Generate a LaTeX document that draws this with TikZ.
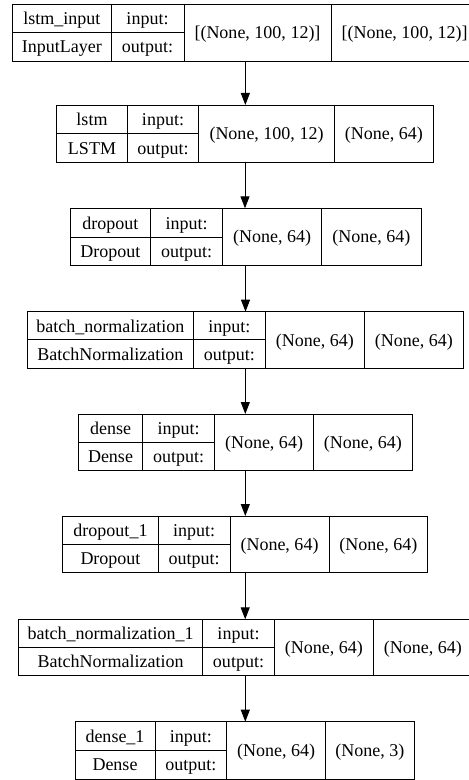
\documentclass[tikz,border=0pt]{standalone}
\usepackage{fontspec}
\setmainfont{Liberation Serif}
\usetikzlibrary{arrows.meta}
\begin{document}
\begin{tikzpicture}[x=1bp,y=-1bp,
  boxline/.style={draw=black, line width=0.9bp},
  layerbox/.style={boxline, inner sep=0pt, outer sep=0pt},
  lbl/.style={font=\fontsize{18.07}{20}\selectfont, inner sep=0pt, text height=13bp, text depth=0.4bp},
  conn/.style={draw=black, line width=0.9bp, -{Triangle[length=12bp,width=9bp]}}]
\clip (0,0) rectangle (469,780);
\fill[white] (0,0) rectangle (469,780);
\foreach \nm/\xl/\xa/\xb/\xc/\xr/\yt/\ym/\yb/\ta/\tb/\si/\so in {
  l0/12.7/111/184/331/478/4/32.3/61/lstm\_input/InputLayer/{[(None, 100, 12)]}/{[(None, 100, 12)]},
  l1/56.7/127.3/198.7/334.3/433.3/105/133.3/162.3/lstm/LSTM/{(None, 100, 12)}/{(None, 64)},
  l2/70/150.7/222.7/321.7/421/208.3/237.3/265/dropout/Dropout/{(None, 64)}/{(None, 64)},
  l3/27.3/193.3/265.3/364.3/463.3/311.7/339.7/368.3/batch\_normalization/BatchNormalization/{(None, 64)}/{(None, 64)},
  l4/78.3/142.7/214.7/313.3/412.3/414/442.3/470/dense/Dense/{(None, 64)}/{(None, 64)},
  l5/62.7/158.3/230/329/427.7/516/544.3/572.7/dropout\_1/Dropout/{(None, 64)}/{(None, 64)},
  l6/18.3/202.7/274.3/373.3/472.3/619.3/647.3/675/batch\_normalization\_1/BatchNormalization/{(None, 64)}/{(None, 64)},
  l7/75/155/226.7/325.7/414/721.7/750/779/dense\_1/Dense/{(None, 64)}/{(None, 3)}}
{
  \node[layerbox, minimum width={\xr bp-\xl bp}, minimum height={\yb bp-\yt bp}]
    (\nm) at ({(\xl+\xr)/2},{(\yt+\yb)/2}) {};
  \draw[boxline] (\xa,\yt) -- (\xa,\yb) (\xb,\yt) -- (\xb,\yb) (\xc,\yt) -- (\xc,\yb)
    (\xl,\ym) -- (\xb,\ym);
  \node[lbl] (\nm-name) at ({(\xl+\xa)/2},{(\yt+\ym)/2}) {\ta};
  \node[lbl] (\nm-class) at ({(\xl+\xa)/2},{(\ym+\yb)/2}) {\tb};
  \node[lbl] (\nm-in) at ({(\xa+\xb)/2},{(\yt+\ym)/2}) {input:};
  \node[lbl] (\nm-out) at ({(\xa+\xb)/2},{(\ym+\yb)/2}) {output:};
  \node[lbl] (\nm-ishape) at ({(\xb+\xc)/2},{(\yt+\yb)/2}) {\si};
  \node[lbl] (\nm-oshape) at ({(\xc+\xr)/2},{(\yt+\yb)/2}) {\so};
}
\foreach \p/\q in {l0/l1,l1/l2,l2/l3,l3/l4,l4/l5,l5/l6,l6/l7}
  \draw[conn] (\p.south) -- (\p.south |- \q.north);
\end{tikzpicture}
\end{document}
